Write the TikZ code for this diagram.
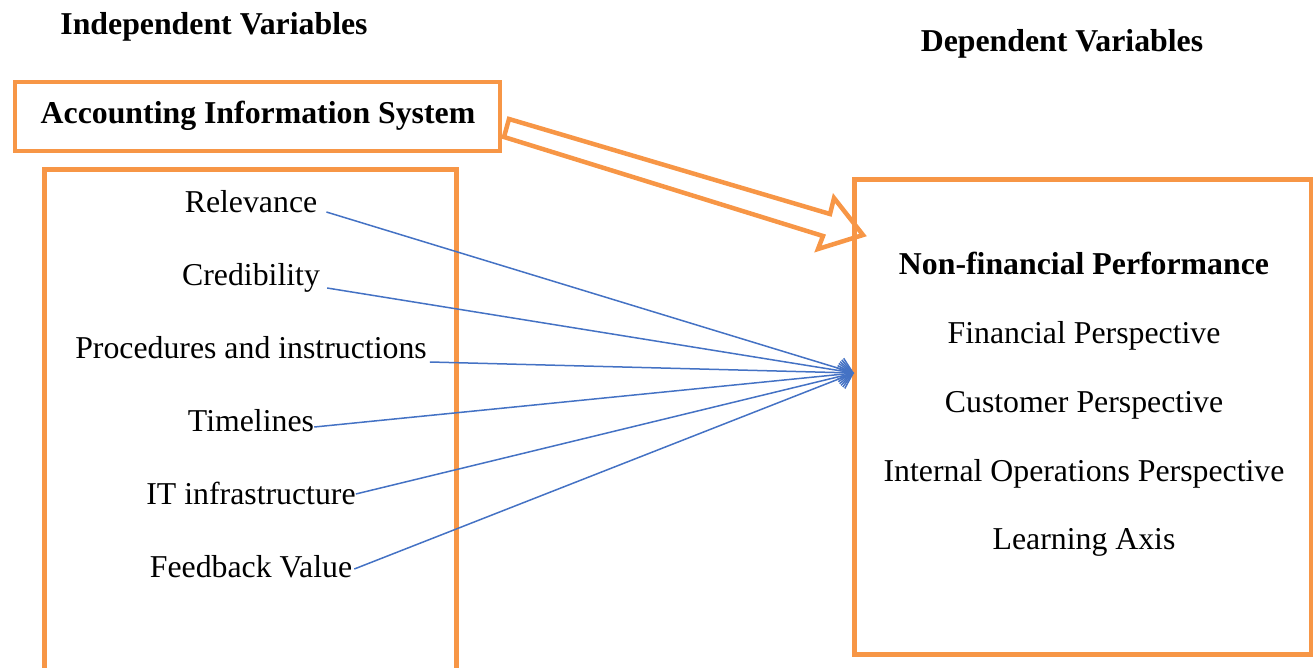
\documentclass[tikz,border=0pt]{standalone}
\usepackage{fontspec}
\setmainfont{Liberation Serif}
\usetikzlibrary{arrows.meta,calc}
\definecolor{boxorange}{HTML}{F79646}
\definecolor{linkblue}{HTML}{4472C4}
\begin{document}
\begin{tikzpicture}[x=1pt,y=-1pt,
  every node/.style={font=\fontsize{31.8}{38}\selectfont, inner sep=0pt, anchor=base},
  hdr/.style={font=\fontsize{31.8}{38}\selectfont\bfseries},
  frame/.style={draw=boxorange, line width=4.5pt},
  link/.style={draw=linkblue, line width=1.5pt, -{Straight Barb[length=13pt,width=22pt]}},
  bigarrow/.style={draw=boxorange, line width=4.5pt, line join=miter}]
\useasboundingbox (0,0) rectangle (1314,667);
% boxes
\draw[frame] (15,82) rectangle (500,151);
\draw[frame] (44.5,169.5) rectangle (456.5,672);
\draw[frame] (854.5,179.5) rectangle (1311,654.5);
% headings
\node[hdr] (iv) at (214,34) {Independent Variables};
\node[hdr] (dv) at (1062,51) {Dependent Variables};
\node[hdr] (ais) at (258,123) {Accounting Information System};
% independent items
\node (rel) at (251,212) {Relevance};
\node (cre) at (251,285) {Credibility};
\node (pro) at (251,358) {Procedures and instructions};
\node (tim) at (251,431) {Timelines};
\node (it) at (251,504) {IT infrastructure};
\node (fb) at (251,577) {Feedback Value};
% dependent items
\node[hdr] (nfp) at (1084,274) {Non-financial Performance};
\node (fin) at (1084,343) {Financial Perspective};
\node (cus) at (1084,412) {Customer Perspective};
\node (ops) at (1084,481) {Internal Operations Perspective};
\node (lea) at (1084,549) {Learning Axis};
% convergence point
\coordinate (tgt) at (854,373);
\draw[link] ($(rel.base east)+(9,0)$) -- (tgt);
\draw[link] ($(cre.base east)+(7,3)$) -- (tgt);
\draw[link] ($(pro.base east)+(3,4)$) -- (tgt);
\draw[link] ($(tim.base east)+(0,-4)$) -- (tgt);
\draw[link] ($(it.base east)+(0,-10)$) -- (tgt);
\draw[link] ($(fb.base east)+(2,-8)$) -- (tgt);
% big hollow arrow
\draw[bigarrow] (509,119) -- (830,214) -- (834,198) -- (863,235) -- (818,249) -- (823,236) -- (504,137) -- cycle;
\end{tikzpicture}
\end{document}
